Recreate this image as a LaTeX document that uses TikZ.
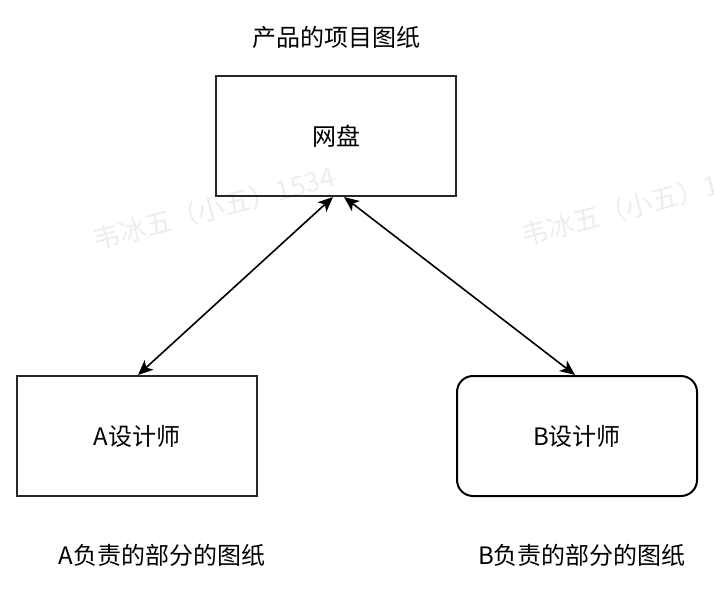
\documentclass[tikz,border=0pt]{standalone}
\usepackage{fontspec}
\setmainfont{Noto Sans CJK SC}
\usepackage{tikz}
\usetikzlibrary{positioning,arrows.meta}
\tikzset{box/.style={draw=black!85,line width=2pt,minimum width=240pt,minimum height=120pt,inner sep=0pt,font=\fontsize{24}{27}\selectfont},
         rbox/.style={box,draw=black,rounded corners=16pt},
         txt/.style={inner sep=0pt,font=\fontsize{24}{27}\selectfont},
         wm/.style={text=black!7,inner sep=0pt,rotate=15,font=\fontsize{27}{30}\selectfont},
         link/.style={{Stealth[length=15pt,width=13pt,inset=4pt]}-{Stealth[length=15pt,width=13pt,inset=4pt]}, line width=1.6pt}
}

\begin{document}
\begin{tikzpicture}[x=1pt,y=-1pt]
      \useasboundingbox (0,0) rectangle (714,594);
      % watermark
      \begin{scope}
      \clip (0,0) rectangle (714,594);
      \node[wm] (wmA) at (214,208) {韦冰五（小五）1534};
      \node[wm] (wmB) at (642,204) {韦冰五（小五）1534};
      \end{scope}
      \node[box] (net)  at (336,136) {网盘};
      \node[box] (desA) at (137,436) {A设计师};
      \node[rbox] (desB) at (577,436) {B设计师};
      \node[txt, above=26pt of net] (title) {产品的项目图纸};
      \node[txt, below=47pt of desA, xshift=25pt] (partA) {A负责的部分的图纸};
      \node[txt, below=47pt of desB, xshift=5pt] (partB) {B负责的部分的图纸};
      \draw[link] ([xshift=1pt]desA.north) -- ([xshift=-3pt]net.south);
      \draw[link] ([xshift=8pt]net.south) -- ([xshift=-2pt]desB.north);
    \end{tikzpicture}
\end{document}
